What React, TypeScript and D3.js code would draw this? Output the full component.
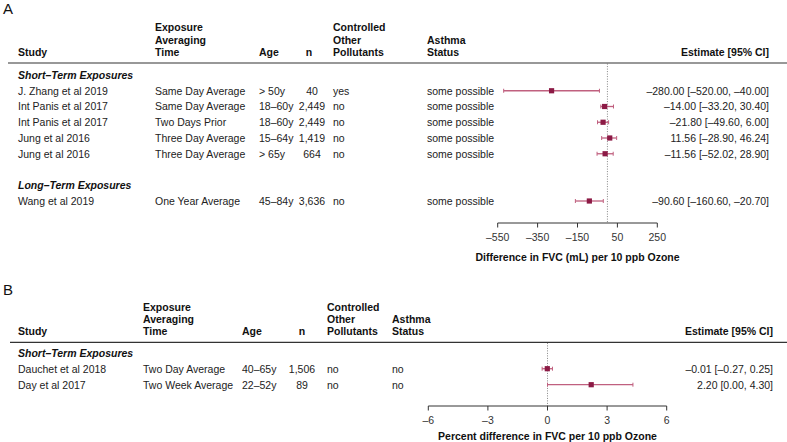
import React from "react";
import * as d3 from "d3";

// ---------- Panel A data ----------
const studiesA = ["J. Zhang et al 2019", "Int Panis et al 2017", "Int Panis et al 2017", "Jung et al 2016", "Jung et al 2016", "Wang et al 2019"];
const exposureA = ["Same Day Average", "Same Day Average", "Two Days Prior", "Three Day Average", "Three Day Average", "One Year Average"];
const ageA = ["> 50y", "18–60y", "18–60y", "15–64y", "> 65y", "45–84y"];
const nA = ["40", "2,449", "2,449", "1,419", "664", "3,636"];
const controlledA = ["yes", "no", "no", "no", "no", "no"];
const asthmaA = ["some possible", "some possible", "some possible", "some possible", "some possible", "some possible"];
const estA = [-280.0, -14.0, -21.8, 11.56, -11.56, -90.6];
const lowA = [-520.0, -33.2, -49.6, -28.9, -52.02, -160.6];
const highA = [-40.0, 30.4, 6.0, 46.24, 28.9, -20.7];
const rowSlotA = [1, 2, 3, 4, 5, 8];
const groupsA = ["Short–Term Exposures", "Long–Term Exposures"];
const groupSlotA = [0, 7];
const ticksA = [-550, -350, -150, 50, 250];
const domainA = [-550, 250];

// ---------- Panel B data ----------
const studiesB = ["Dauchet et al 2018", "Day et al 2017"];
const exposureB = ["Two Day Average", "Two Week Average"];
const ageB = ["40–65y", "22–52y"];
const nB = ["1,506", "89"];
const controlledB = ["no", "no"];
const asthmaB = ["no", "no"];
const estB = [-0.01, 2.2];
const lowB = [-0.27, 0.0];
const highB = [0.25, 4.3];
const rowSlotB = [1, 2];
const groupsB = ["Short–Term Exposures"];
const groupSlotB = [0];
const ticksB = [-6, -3, 0, 3, 6];
const domainB = [-6, 6];

const FONT = "'Liberation Sans', Arial, Helvetica, sans-serif";
const FS = 10.5;
const MARK = "#8c1a45";
const CI = "#c0607f";
const TXT = "#222";

const fmt = (v: number) => v.toFixed(2).replace(/-/g, "–");
const fmtTick = (v: number) => String(v).replace(/-/g, "–");

type PanelProps = {
  label: string;
  labelY: number;
  headY: number[];
  hlineY: number;
  hlineX0: number;
  rowY0: number;
  rowStep: number;
  cols: { study: number; exp: number; age: number; nHead: number; nVal: number; ctrl: number; asthma: number; est: number };
  axisY: number;
  tickOff: number;
  titleOff: number;
  range: [number, number];
  domain: number[];
  ticks: number[];
  axisTitle: string;
  studies: string[];
  exposure: string[];
  age: string[];
  n: string[];
  controlled: string[];
  asthma: string[];
  est: number[];
  low: number[];
  high: number[];
  rowSlot: number[];
  groups: string[];
  groupSlot: number[];
};

function Panel(p: PanelProps) {
  const x = d3.scaleLinear().domain(p.domain).range(p.range);
  const rowY = (slot: number) => p.rowY0 + slot * p.rowStep;
  const base = (cy: number) => cy + 3.8;
  const [h1, h2, h3] = p.headY;
  const c = p.cols;
  return (
    <g fontFamily={FONT} fontSize={FS} fill={TXT}>
      <text x={3} y={p.labelY} fontSize={15} fill="#111">{p.label}</text>
      <g fontWeight={700} fill="#111">
        <text x={c.study} y={h3}>Study</text>
        <text x={c.exp} y={h1}>Exposure</text>
        <text x={c.exp} y={h2}>Averaging</text>
        <text x={c.exp} y={h3}>Time</text>
        <text x={c.age} y={h3}>Age</text>
        <text x={c.nHead} y={h3} textAnchor="middle">n</text>
        <text x={c.ctrl} y={h1}>Controlled</text>
        <text x={c.ctrl} y={h2}>Other</text>
        <text x={c.ctrl} y={h3}>Pollutants</text>
        <text x={c.asthma} y={h2}>Asthma</text>
        <text x={c.asthma} y={h3}>Status</text>
        <text x={c.est} y={h3} textAnchor="end">Estimate [95% CI]</text>
      </g>
      <line x1={p.hlineX0} x2={787} y1={p.hlineY} y2={p.hlineY} stroke="#333" strokeWidth={1.2} />
      {p.groups.map((g, i) => (
        <text key={g} x={c.study} y={base(rowY(p.groupSlot[i]))} fontWeight={700} fontStyle="italic" fill="#111">{g}</text>
      ))}
      <line x1={x(0)} x2={x(0)} y1={p.hlineY + 0.6} y2={p.axisY} stroke="#666" strokeWidth={0.8} strokeDasharray="1,1.5" />
      {p.studies.map((s, i) => {
        const cy = rowY(p.rowSlot[i]);
        const by = base(cy);
        return (
          <g key={i}>
            <text x={c.study} y={by}>{s}</text>
            <text x={c.exp} y={by}>{p.exposure[i]}</text>
            <text x={c.age} y={by}>{p.age[i]}</text>
            <text x={c.nVal} y={by} textAnchor="middle">{p.n[i]}</text>
            <text x={c.ctrl} y={by}>{p.controlled[i]}</text>
            <text x={c.asthma} y={by}>{p.asthma[i]}</text>
            <text x={c.est} y={by} textAnchor="end">{`${fmt(p.est[i])} [${fmt(p.low[i])}, ${fmt(p.high[i])}]`}</text>
            <line x1={x(p.low[i])} x2={x(p.high[i])} y1={cy} y2={cy} stroke={CI} strokeWidth={1.3} />
            <line x1={x(p.low[i])} x2={x(p.low[i])} y1={cy - 2} y2={cy + 2} stroke={CI} strokeWidth={1} />
            <line x1={x(p.high[i])} x2={x(p.high[i])} y1={cy - 2} y2={cy + 2} stroke={CI} strokeWidth={1} />
            <rect x={x(p.est[i]) - 2.6} y={cy - 2.6} width={5.2} height={5.2} fill={MARK} />
          </g>
        );
      })}
      <line x1={p.range[0]} x2={p.range[1]} y1={p.axisY} y2={p.axisY} stroke="#333" strokeWidth={1} />
      {p.ticks.map((t) => (
        <g key={t}>
          <line x1={x(t)} x2={x(t)} y1={p.axisY} y2={p.axisY + 4.5} stroke="#333" strokeWidth={1} />
          <text x={x(t)} y={p.axisY + p.tickOff} textAnchor="middle" fill="#333">{fmtTick(t)}</text>
        </g>
      ))}
      <text x={(p.range[0] + p.range[1]) / 2} y={p.axisY + p.titleOff} textAnchor="middle" fontWeight={700} fill="#111">{p.axisTitle}</text>
    </g>
  );
}

export default function App() {
  return (
    <svg width={787} height={442} style={{ position: "absolute", left: 0, top: 0, background: "#fff" }}>
      <rect width={787} height={442} fill="#fff" />
      <Panel
        label="A"
        labelY={14}
        headY={[30.8, 43.5, 56.2]}
        hlineY={63}
        hlineX0={8}
        rowY0={75}
        rowStep={15.75}
        cols={{ study: 18, exp: 155, age: 259, nHead: 309, nVal: 312, ctrl: 333, asthma: 427, est: 769 }}
        axisY={223}
        tickOff={18}
        titleOff={37.5}
        range={[497.7, 657.3]}
        domain={domainA}
        ticks={ticksA}
        axisTitle="Difference in FVC (mL) per 10 ppb Ozone"
        studies={studiesA}
        exposure={exposureA}
        age={ageA}
        n={nA}
        controlled={controlledA}
        asthma={asthmaA}
        est={estA}
        low={lowA}
        high={highA}
        rowSlot={rowSlotA}
        groups={groupsA}
        groupSlot={groupSlotA}
      />
      <Panel
        label="B"
        labelY={295}
        headY={[310.5, 323.2, 335]}
        hlineY={342.3}
        hlineX0={10}
        rowY0={352.7}
        rowStep={16}
        cols={{ study: 18, exp: 143, age: 242, nHead: 302, nVal: 302, ctrl: 327, asthma: 392, est: 773 }}
        axisY={406}
        tickOff={17.5}
        titleOff={33.5}
        range={[428.3, 666.7]}
        domain={domainB}
        ticks={ticksB}
        axisTitle="Percent difference in FVC per 10 ppb Ozone"
        studies={studiesB}
        exposure={exposureB}
        age={ageB}
        n={nB}
        controlled={controlledB}
        asthma={asthmaB}
        est={estB}
        low={lowB}
        high={highB}
        rowSlot={rowSlotB}
        groups={groupsB}
        groupSlot={groupSlotB}
      />
    </svg>
  );
}
